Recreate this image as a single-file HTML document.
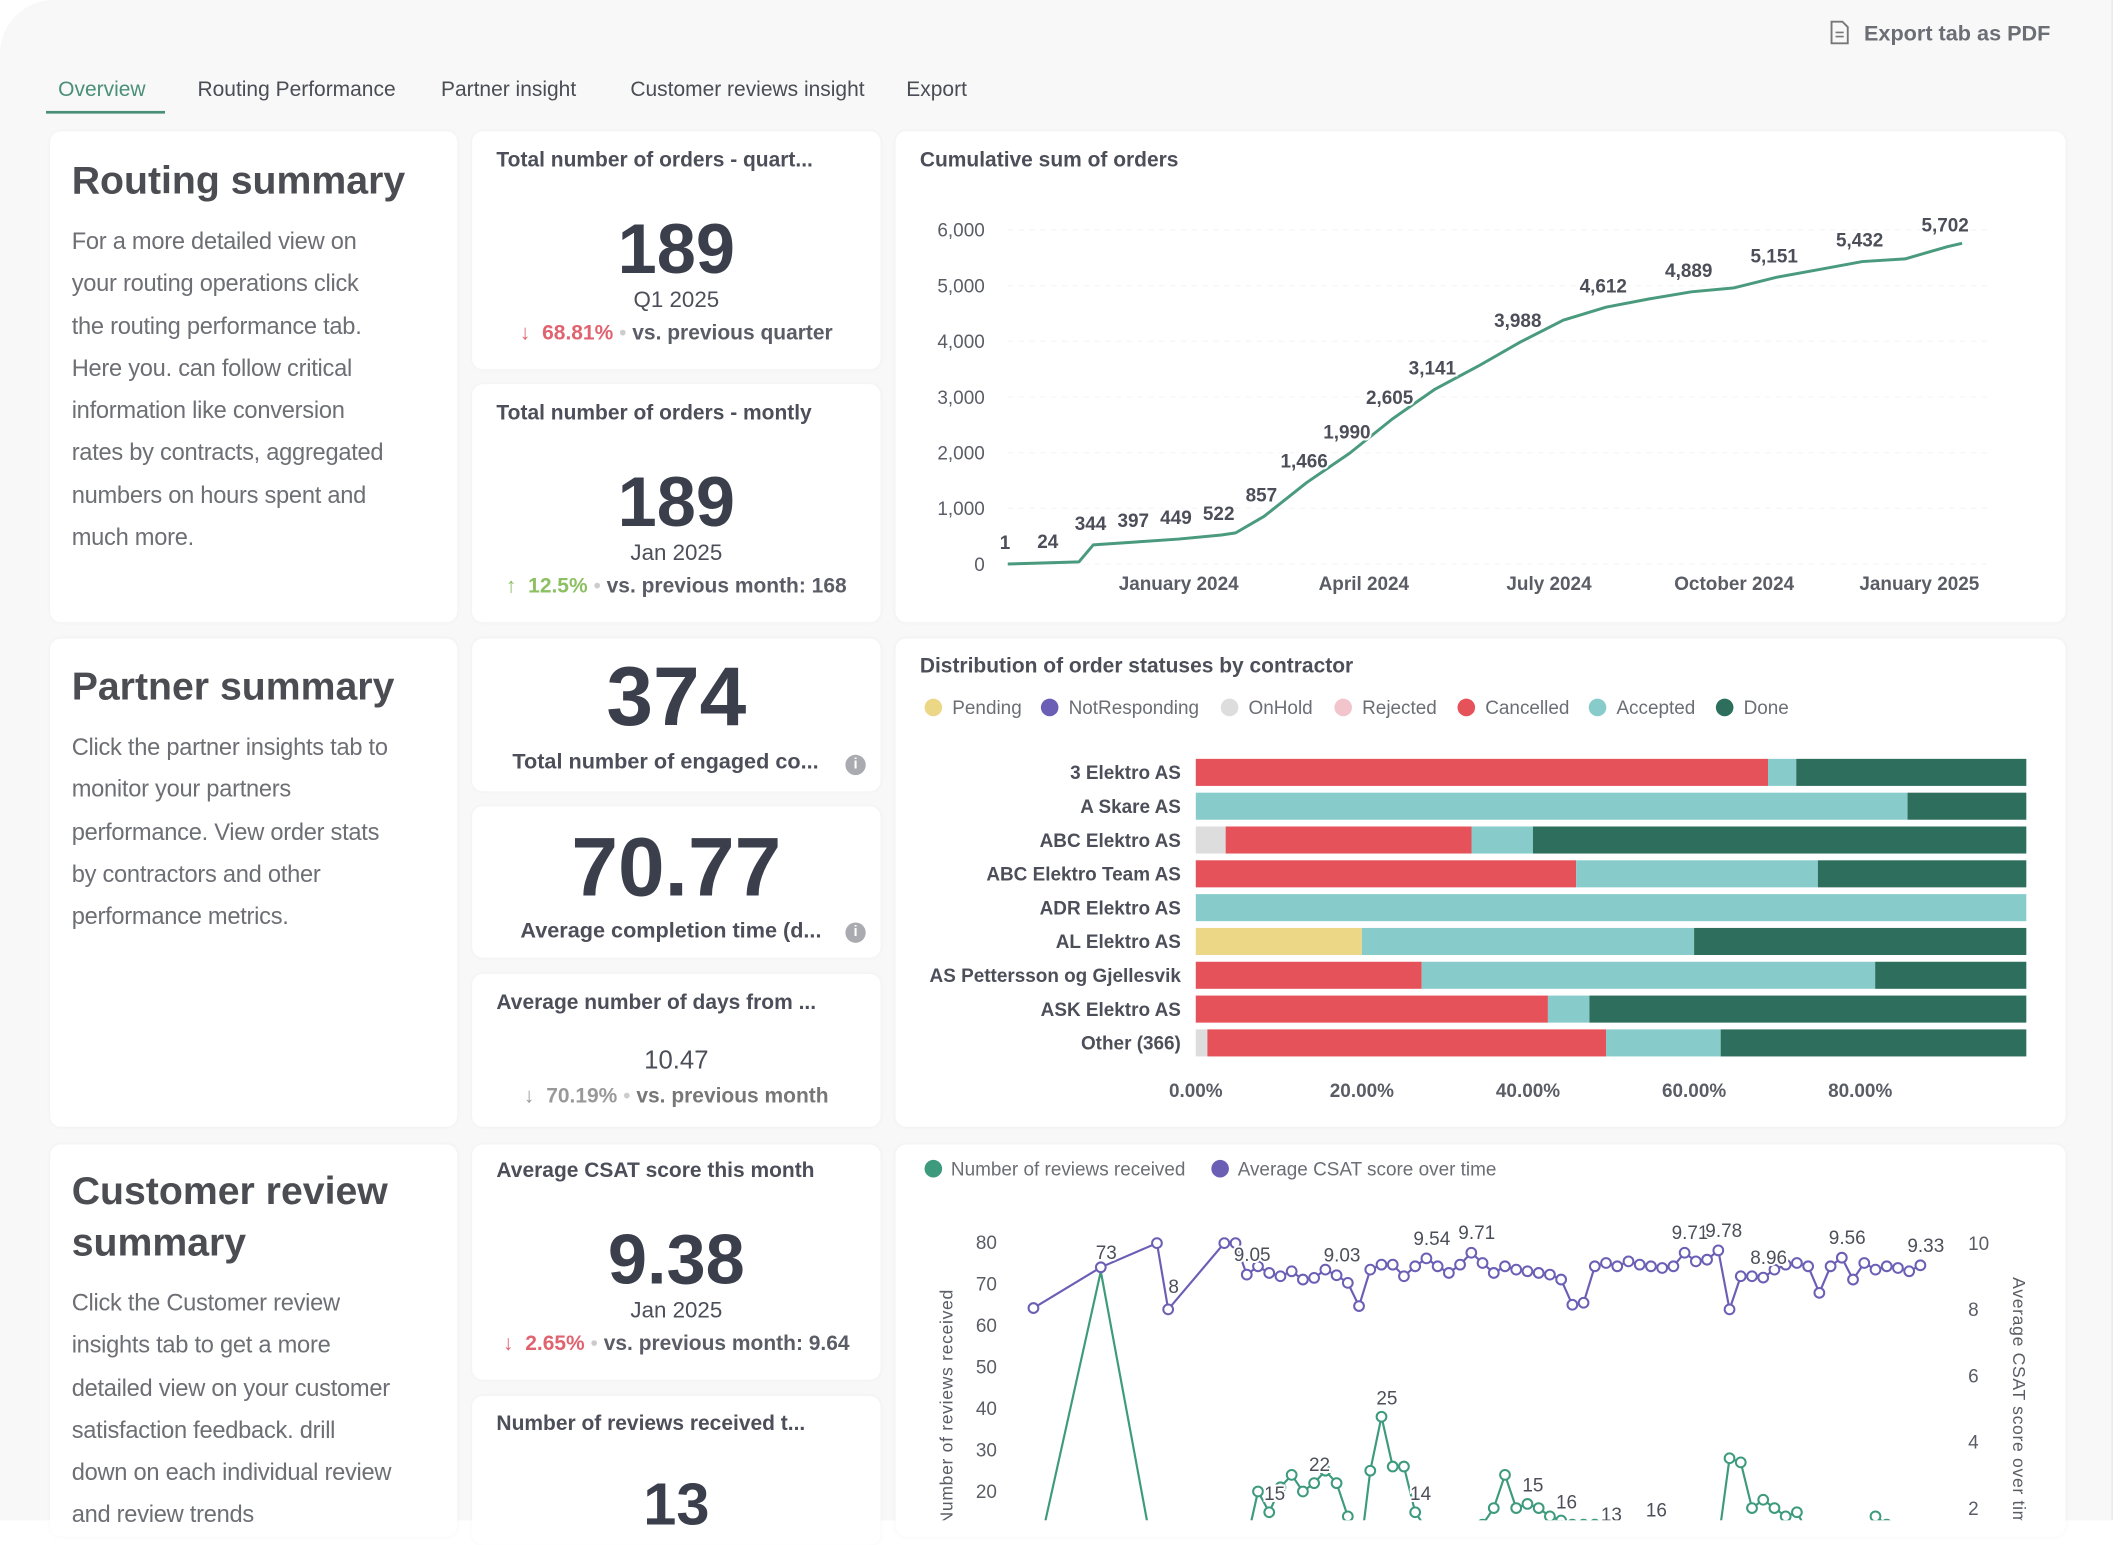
<!DOCTYPE html>
<html><head><meta charset="utf-8">
<style>
*{box-sizing:border-box;margin:0;padding:0}
html,body{width:2121px;height:1520px;overflow:hidden;background:#fff}
#wrap{position:absolute;left:0;top:0;width:1568px;height:1124px;transform:scale(1.35268);transform-origin:0 0;font-family:"Liberation Sans",sans-serif;color:#4c4f59}
#page{position:absolute;left:0;top:0;width:1562px;height:1124px;background:#f8f8f8;border-top-left-radius:40px;border-right:1px solid #e6e6e6}
.card{position:absolute;background:#fff;border-radius:8px;box-shadow:0 0 3px rgba(0,0,0,0.04)}
.abs{position:absolute;white-space:nowrap}
.tab{position:absolute;top:58px;font-size:15.5px;color:#4a4d55}
.h1{position:absolute;left:16px;font-size:29px;font-weight:bold;color:#4b4d52;line-height:38px}
.body{position:absolute;left:16px;font-size:17.5px;line-height:31.3px;color:#6d6f75;white-space:nowrap;letter-spacing:-0.2px}
.kt{position:absolute;left:18px;font-size:15.5px;font-weight:bold;color:#4c4f59}
.big{position:absolute;left:0;width:100%;text-align:center;font-weight:bold;color:#3b3f4c}
.sub{position:absolute;left:0;width:100%;text-align:center;font-size:16.5px;color:#4c4f59}
.chg{position:absolute;left:0;width:100%;text-align:center;font-size:15.5px;color:#5a5d66}
svg text{font-family:"Liberation Sans",sans-serif}
</style></head><body>
<div id="wrap">
<div id="page"></div>

<div class="abs" style="left:1352px;top:15px;font-size:16px;color:#6b6e75;font-weight:bold">
<svg width="16" height="18" style="vertical-align:-3px;margin-right:10px"><path d="M2 1h8l4 4v12H2z" fill="none" stroke="#777" stroke-width="1.4"/><path d="M5 9h6M5 12h6" stroke="#777" stroke-width="1.2"/></svg>Export tab as PDF</div>

<div class="tab" style="left:43px;color:#4a8f78">Overview</div>
<div class="abs" style="left:34px;top:82px;width:88px;height:2px;background:#4a8f78"></div>
<div class="tab" style="left:146px">Routing Performance</div>
<div class="tab" style="left:326px">Partner insight</div>
<div class="tab" style="left:466px">Customer reviews insight</div>
<div class="tab" style="left:670px">Export</div>

<!-- Row 1 -->
<div class="card" style="left:37px;top:97px;width:301px;height:363px">
<div class="h1" style="top:18px">Routing summary</div>
<div class="body" style="top:66px">For a more detailed view on<br>your routing operations click<br>the routing performance tab.<br>Here you. can follow critical<br>information like conversion<br>rates by contracts, aggregated<br>numbers on hours spent and<br>much more.</div>
</div>
<div class="card" style="left:349px;top:97px;width:302px;height:176px">
<div class="kt" style="top:13px">Total number of orders - quart...</div>
<div class="big" style="top:58px;font-size:52px">189</div>
<div class="sub" style="top:116px">Q1 2025</div>
<div class="chg" style="top:141px"><span style="color:#e06470">↓ &nbsp;<b>68.81%</b></span> <span style="color:#ccc">•</span> <b>vs. previous quarter</b></div>
</div>
<div class="card" style="left:349px;top:284px;width:302px;height:176px">
<div class="kt" style="top:13px">Total number of orders - montly</div>
<div class="big" style="top:58px;font-size:52px">189</div>
<div class="sub" style="top:116px">Jan 2025</div>
<div class="chg" style="top:141px"><span style="color:#8cc063">↑ &nbsp;<b>12.5%</b></span> <span style="color:#ccc">•</span> <b>vs. previous month: 168</b></div>
</div>
<div class="card" style="left:662px;top:97px;width:865px;height:363px">
<div class="kt" style="top:13px">Cumulative sum of orders</div>
</div>

<!-- Row 2 -->
<div class="card" style="left:37px;top:472px;width:301px;height:361px">
<div class="h1" style="top:17px">Partner summary</div>
<div class="body" style="top:65px">Click the partner insights tab to<br>monitor your partners<br>performance. View order stats<br>by contractors and other<br>performance metrics.</div>
</div>
<div class="card" style="left:349px;top:472px;width:302px;height:113px">
<div class="big" style="top:8px;font-size:62px">374</div>
<div class="sub" style="top:83px;font-weight:bold;font-size:16px;left:-8px">Total number of engaged co...</div>
<div class="abs" style="left:276px;top:86px;width:15px;height:15px;border-radius:50%;background:#a9abb0;color:#fff;font-size:11px;text-align:center;line-height:15px;font-weight:bold">i</div>
</div>
<div class="card" style="left:349px;top:596px;width:302px;height:112px">
<div class="big" style="top:10px;font-size:62px">70.77</div>
<div class="sub" style="top:84px;font-weight:bold;font-size:16px;left:-4px">Average completion time (d...</div>
<div class="abs" style="left:276px;top:86px;width:15px;height:15px;border-radius:50%;background:#a9abb0;color:#fff;font-size:11px;text-align:center;line-height:15px;font-weight:bold">i</div>
</div>
<div class="card" style="left:349px;top:720px;width:302px;height:113px">
<div class="kt" style="top:13px">Average number of days from ...</div>
<div class="sub" style="top:54px;font-size:19px">10.47</div>
<div class="chg" style="top:82px;color:#777"><span style="color:#999">↓ &nbsp;<b>70.19%</b></span> <span style="color:#ccc">•</span> <b>vs. previous month</b></div>
</div>
<div class="card" style="left:662px;top:472px;width:865px;height:361px">
<div class="kt" style="top:12px">Distribution of order statuses by contractor</div>
</div>

<!-- Row 3 -->
<div class="card" style="left:37px;top:846px;width:301px;height:290px">
<div class="h1" style="top:16px">Customer review<br>summary</div>
<div class="body" style="top:102px">Click the Customer review<br>insights tab to get a more<br>detailed view on your customer<br>satisfaction feedback. drill<br>down on each individual review<br>and review trends</div>
</div>
<div class="card" style="left:349px;top:846px;width:302px;height:174px">
<div class="kt" style="top:11px">Average CSAT score this month</div>
<div class="big" style="top:56px;font-size:52px">9.38</div>
<div class="sub" style="top:114px">Jan 2025</div>
<div class="chg" style="top:139px"><span style="color:#e06470">↓ &nbsp;<b>2.65%</b></span> <span style="color:#ccc">•</span> <b>vs. previous month: 9.64</b></div>
</div>
<div class="card" style="left:349px;top:1032px;width:302px;height:110px">
<div class="kt" style="top:12px">Number of reviews received t...</div>
<div class="big" style="top:56px;font-size:44px">13</div>
</div>
<div class="card" style="left:662px;top:846px;width:865px;height:290px"></div>

<svg id="chart" width="1568" height="1124" style="position:absolute;left:0;top:0"></svg>
</div>

<script>
// ---- Cumulative orders chart data ----
const cumWeeks = [0,3,5,6,9,12,15,16,18,21,24,27,30,33,36,39,42,45,48,51,54,57,60,63,66,67];
const cumValues = [1,24,40,344,397,449,522,560,857,1466,1990,2605,3141,3550,3988,4380,4612,4760,4889,4960,5151,5290,5432,5480,5702,5760];
const cumLabeled = [1,1,0,1,1,1,1,0,1,1,1,1,1,0,1,0,1,0,1,0,1,0,1,0,1,0];
const cumYTicks = [0,1000,2000,3000,4000,5000,6000];
const cumYTickLabels = ["0","1,000","2,000","3,000","4,000","5,000","6,000"];
const cumXTickWeeks = [12,25,38,51,64];
const cumXTickLabels = ["January 2024","April 2024","July 2024","October 2024","January 2025"];

// ---- Order status chart data ----
const contractors = ["3 Elektro AS","A Skare AS","ABC Elektro AS","ABC Elektro Team AS","ADR Elektro AS","AL Elektro AS","AS Pettersson og Gjellesvik","ASK Elektro AS","Other (366)"];
const statusNames = ["Pending","NotResponding","OnHold","Rejected","Cancelled","Accepted","Done"];
const pending   = [0,0,0,0,0,20,0,0,0];
const notResp   = [0,0,0,0,0,0,0,0,0];
const onHold    = [0,0,3.6,0,0,0,0,0,1.4];
const rejected  = [0,0,0,0,0,0,0,0,0];
const cancelled = [68.9,0,29.6,45.8,0,0,27.2,42.4,48.0];
const accepted  = [3.4,85.7,7.4,29.1,100,40,54.6,5.0,13.8];
const done      = [27.7,14.3,59.4,25.1,0,40,18.2,52.6,36.8];
const pctTicks = [0,20,40,60,80];
const pctTickLabels = ["0.00%","20.00%","40.00%","60.00%","80.00%"];

// ---- Reviews / CSAT chart data ----
const revWeeks = [0,6,11,12,17,18,19,20,21,22,23,24,25,26,27,28,29,30,31,32,33,34,35,36,37,38,39,40,41,42,43,44,45,46,47,48,49,50,51,52,53,54,55,56,57,58,59,60,61,62,63,64,65,66,67,68,69,70,71,72,73,74,75,76,77,78,79];
const reviews = [0,73,0,1,1,3,8,20,15,21,24,20,22,25,22,14,3,25,38,26,26,15,11,10,6,10,11,12,16,24,16,17,16,14,13,12,12,12,10,8,9,10,11,7,6,7,5,8,8,28,27,16,18,16,14,15,10,9,10,8,7,9,14,12,11,10,9];
const csat = [8.04,9.27,10,8,10,10,9.05,9.3,9.1,9.0,9.15,8.9,8.95,9.2,9.03,8.8,8.1,9.2,9.35,9.35,9.0,9.3,9.54,9.3,9.1,9.35,9.71,9.4,9.1,9.3,9.2,9.15,9.1,9.05,8.9,8.14,8.2,9.3,9.4,9.3,9.45,9.35,9.3,9.25,9.3,9.71,9.45,9.5,9.78,8.0,9.0,9.0,8.96,9.2,9.35,9.4,9.3,8.5,9.3,9.56,8.9,9.4,9.2,9.3,9.25,9.15,9.33];
const revLabelIdx = [1,8,12,16,18,21,31,34,38,42];
const revLabelText = ["73","15","22","23","25","14","15","16","13","16"];
const csatLabelIdx = [3,6,14,22,26,45,48,52,59,66];
const leftTicks = [20,30,40,50,60,70,80];
const rightTicks = [2,4,6,8,10];

const NS = "http://www.w3.org/2000/svg";
const svg = document.getElementById("chart");
function mk(tag, attrs, parent){const e=document.createElementNS(NS,tag);for(const k in attrs)e.setAttribute(k,attrs[k]);(parent||svg).appendChild(e);return e;}
function txt(s, attrs, parent){const e=mk("text",attrs,parent);e.textContent=s;return e;}

// ===== Cumulative chart =====
const cx = w => 745 + w*10.53;
const cy = v => 417 - v*0.04117;
const g1 = mk("g",{});


cumYTicks.forEach((t,i)=>{
  const gl = mk("line",{x1:745,x2:1470,y1:cy(t),y2:cy(t),stroke:"#f6f6f6","stroke-width":1,"stroke-dasharray":"4 4"},g1);
  
  
  const tl = txt(cumYTickLabels[i],{x:728,y:cy(t)+5,"text-anchor":"end","font-size":14,fill:"#5a5d66"},g1);
  
  
});
cumXTickWeeks.forEach((w,i)=>{
  const tl = txt(cumXTickLabels[i],{x:cx(w),y:436,"text-anchor":"middle","font-size":14,"font-weight":"bold",fill:"#5a5d66"},g1);
  
  
});
const cumPts = cumWeeks.map((w,i)=>cx(w)+","+cy(cumValues[i])).join(" ");
const cl = mk("polyline",{points:cumPts,fill:"none",stroke:"#4a9a7e","stroke-width":2.2,"stroke-linejoin":"round"},g1);


cumWeeks.forEach((w,i)=>{
  if(!cumLabeled[i]) return;
  const lab = txt(cumValues[i].toLocaleString("en-US"),{x:cx(w)-2,y:cy(cumValues[i])-11,"text-anchor":"middle","font-size":14,"font-weight":"bold",fill:"#4c4f59",stroke:"#fff","stroke-width":3,"paint-order":"stroke"},g1);
  
  
});

// ===== Order status chart =====
const colors = ["#ecd787","#6b5fb5","#dddddd","#f2c4cc","#e5525a","#88cbcb","#2e6e5c"];
const series = [pending,notResp,onHold,rejected,cancelled,accepted,done];
const legX = [684,770,903,987,1078,1175,1269];
const g2 = mk("g",{});


statusNames.forEach((n,i)=>{
  const d = mk("circle",{cx:legX[i]+6,cy:523,r:6.5,fill:colors[i]},g2);
  
  
  const t = txt(n,{x:legX[i]+20,y:528,"font-size":14,fill:"#6b6e75"},g2);
  
  
});
const px = p => 884 + p*6.14;
pctTicks.forEach((p,i)=>{
  const t = txt(pctTickLabels[i],{x:px(p),y:811,"text-anchor":"middle","font-size":14,"font-weight":"bold",fill:"#5a5d66"},g2);
  
  
});
contractors.forEach((c,r)=>{
  const yc = 571 + r*25;
  const t = txt(c,{x:873,y:yc+5,"text-anchor":"end","font-size":14,"font-weight":"bold",fill:"#4c4f59"},g2);
  
  
  let acc = 0;
  series.forEach((s,k)=>{
    const v = s[r]; if(!v) return;
    const b = mk("rect",{x:px(acc),y:yc-10,width:px(acc+v)-px(acc),height:20,fill:colors[k]},g2);
    
    
    acc += v;
  });
});

// ===== Reviews / CSAT chart =====
const g3 = mk("g",{});


const clip = mk("clipPath",{id:"c3"},g3);
mk("rect",{x:662,y:846,width:865,height:278},clip);
const inner = mk("g",{"clip-path":"url(#c3)"},g3);
const rx = w => 764 + w*8.3;
const ly = v => 1164 - v*3.07;
const ry = v => 1164 - v*24.5;
const l1 = mk("circle",{cx:690,cy:864,r:6.5,fill:"#3d9a7d"},g3);


const lt1 = txt("Number of reviews received",{x:703,y:869,"font-size":14,fill:"#6b6e75"},g3);


const l2 = mk("circle",{cx:902,cy:864,r:6.5,fill:"#6b5fb5"},g3);


const lt2 = txt("Average CSAT score over time",{x:915,y:869,"font-size":14,fill:"#6b6e75"},g3);


leftTicks.forEach(t=>{
  const e = txt(String(t),{x:737,y:ly(t)+5,"text-anchor":"end","font-size":14,fill:"#5a5d66"},inner);
  
  
});
rightTicks.forEach(t=>{
  const e = txt(String(t),{x:1455,y:ry(t)+5,"font-size":14,fill:"#5a5d66"},inner);
  
  
});
const yt1 = txt("Number of reviews received",{x:0,y:0,"font-size":13,fill:"#5a5d66","text-anchor":"middle",transform:"translate(704,1040) rotate(-90)","letter-spacing":"0.5"},inner);


const yt2 = txt("Average CSAT score over time",{x:0,y:0,"font-size":13,fill:"#5a5d66","text-anchor":"middle",transform:"translate(1488,1040) rotate(90)","letter-spacing":"0.5"},inner);



const rl = mk("polyline",{points:revWeeks.map((w,i)=>rx(w)+","+ly(reviews[i])).join(" "),fill:"none",stroke:"#3d9a7d","stroke-width":1.6},inner);


const sl = mk("polyline",{points:revWeeks.map((w,i)=>rx(w)+","+ry(csat[i])).join(" "),fill:"none",stroke:"#6b5fb5","stroke-width":1.6},inner);


revWeeks.forEach((w,i)=>{
  if(i>=5){
    const p = mk("circle",{cx:rx(w),cy:ly(reviews[i]),r:3.6,fill:"#fff",stroke:"#3d9a7d","stroke-width":1.5},inner);
    
    
  }
  const q = mk("circle",{cx:rx(w),cy:ry(csat[i]),r:3.6,fill:"#fff",stroke:"#6b5fb5","stroke-width":1.5},inner);
  
  
});
revLabelIdx.forEach((idx,k)=>{
  const e = txt(revLabelText[k],{x:rx(revWeeks[idx])+4,y:ly(reviews[idx])-9,"text-anchor":"middle","font-size":14,fill:"#4c4f59",stroke:"#fff","stroke-width":3,"paint-order":"stroke"},inner);
  
  
});
csatLabelIdx.forEach(idx=>{
  const v = csat[idx];
  const s = Number.isInteger(v) ? String(v) : v.toFixed(2);
  const below = v < 8.6;
  const e = txt(s,{x:rx(revWeeks[idx])+4,y:below?ry(v)-12:ry(v)-10,"text-anchor":"middle","font-size":14,fill:"#4c4f59",stroke:"#fff","stroke-width":3,"paint-order":"stroke"},inner);
  
  
});
</script>
</body></html>
